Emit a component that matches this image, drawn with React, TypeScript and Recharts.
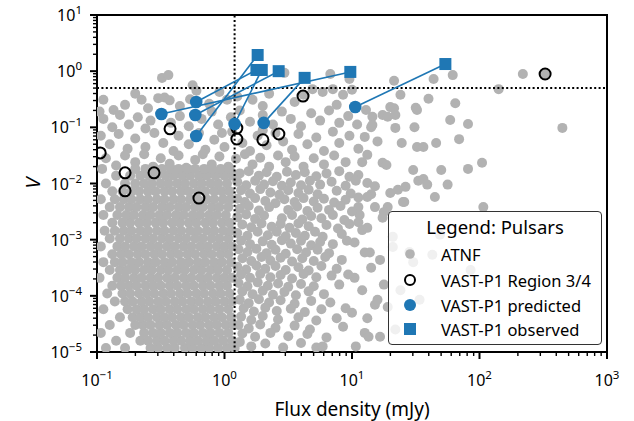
import React from "react";
import { ScatterChart, Scatter, XAxis, YAxis, ReferenceArea } from "recharts";

// ---- data ----
// VAST-P1 predicted / observed pairs (same order)
const predictedFlux = [0.32, 0.6, 0.59, 0.6, 1.2, 2.03, 10.6];
const predictedV = [0.173, 0.283, 0.166, 0.07, 0.115, 0.12, 0.23];
const observedFlux = [9.7, 1.78, 2.66, 1.82, 1.96, 4.25, 54];
const observedV = [0.97, 1.05, 1.0, 1.94, 1.05, 0.76, 1.34];

// VAST-P1 Region 3/4 pulsars
const regionFlux = [0.106, 0.166, 0.28, 0.166, 0.374, 0.63, 1.25, 1.25, 2.0, 2.67, 4.13, 327];
const regionV = [0.035, 0.0155, 0.0155, 0.0074, 0.094, 0.0055, 0.097, 0.062, 0.06, 0.076, 0.36, 0.89];

// ATNF pulsars, as [log10 flux (mJy), log10 V]
const atnfTop = [
  [-0.95, -0.51], [-0.87, -0.69], [-0.65, -0.51], [-0.52, -0.48], [-0.47, -0.47], [-0.43, -0.52],
  [-0.27, -0.5], [-0.22, -0.35], [-0.25, -0.25], [-0.49, -0.12], [-0.44, -0.07], [-0.04, -0.37],
  [0.02, -0.51], [0.22, -0.51], [0.47, -0.03], [0.69, -0.32], [0.77, -0.37], [0.85, -0.32],
  [0.93, -0.42], [1.0, -0.33], [0.83, -0.05], [0.98, -0.14], [1.33, -0.17], [1.64, -0.14],
  [1.79, -0.07], [2.34, -0.05], [2.51, -0.05], [2.15, -0.32], [1.38, -0.42], [1.6, -0.49],
  [1.81, -0.57], [-0.78, -0.6], [-0.6, -0.66], [-0.35, -0.62], [-0.12, -0.58], [0.1, -0.45],
  [0.35, -0.4], [0.55, -0.55], [0.62, -0.42], [0.3, -0.62], [0.88, -0.6], [-0.98, -0.72], [-0.7, -0.4],
];

const atnfUpper = [
  [-0.95, -0.85], [-0.82, -0.78], [-0.75, -0.95], [-0.68, -0.82], [-0.58, -0.88], [-0.5, -0.75],
  [-0.42, -0.92], [-0.35, -0.8], [-0.28, -0.98], [-0.18, -0.85], [-0.1, -0.72], [-0.05, -0.95],
  [0.05, -0.82], [0.12, -0.7], [0.2, -0.9], [0.3, -0.78], [0.38, -0.95], [0.45, -0.72],
  [0.52, -0.85], [0.6, -0.98], [0.68, -0.75], [0.75, -0.88], [0.82, -0.7], [0.9, -0.92],
  [0.97, -0.8], [1.04, -0.95], [-0.88, -1.0], [-0.62, -1.02],
  [-0.97, -1.15], [-0.9, -1.3], [-0.83, -1.12], [-0.76, -1.38], [-0.7, -1.2], [-0.62, -1.35],
  [-0.55, -1.1], [-0.48, -1.28], [-0.4, -1.42], [-0.36, -1.15], [-0.28, -1.3], [-0.2, -1.1],
  [-0.15, -1.4], [-0.08, -1.22], [0.0, -1.35], [0.06, -1.08], [0.14, -1.28], [0.2, -1.42],
  [0.26, -1.15], [0.33, -1.32], [0.4, -1.1], [0.46, -1.25], [0.53, -1.4], [0.58, -1.12],
  [0.65, -1.3], [0.72, -1.18], [0.78, -1.42], [0.85, -1.08], [0.9, -1.28], [0.98, -1.15],
  [1.05, -1.38], [1.2, -1.25], [-0.02, -1.1], [0.3, -1.05],
  [-0.93, -1.55], [-0.85, -1.68], [-0.78, -1.5], [-0.7, -1.62], [-0.63, -1.48], [-0.56, -1.7],
  [-0.5, -1.55], [-0.43, -1.65], [-0.36, -1.5], [-0.3, -1.72], [-0.23, -1.58], [-0.17, -1.48],
  [-0.1, -1.66], [-0.04, -1.52], [0.03, -1.7], [0.09, -1.56], [0.16, -1.48], [0.22, -1.66],
  [0.28, -1.54], [0.35, -1.7], [0.42, -1.5], [0.48, -1.62], [0.55, -1.52], [0.62, -1.7],
  [0.7, -1.55], [0.78, -1.66], [0.86, -1.5], [0.95, -1.62],
];

const atnfRight = [
  [1.5, -0.65], [1.51, -0.69], [1.3, -0.64], [1.33, -0.66], [1.24, -0.78], [1.28, -0.81],
  [1.34, -0.78], [1.16, -0.81], [1.11, -0.69], [1.15, -1.0], [1.34, -1.01], [1.49, -1.0],
  [1.77, -0.87], [1.91, -0.94], [2.65, -1.01], [1.1, -1.17], [1.39, -1.28], [1.51, -1.35],
  [1.56, -1.35], [1.66, -1.28], [1.84, -1.21], [1.24, -1.63], [1.27, -1.67], [1.08, -1.62],
  [1.7, -1.76], [1.91, -1.74], [2.02, -1.63], [1.48, -1.76], [1.52, -1.95], [1.56, -1.92],
  [1.59, -2.02], [1.75, -2.02], [1.42, -2.06], [1.36, -2.11], [1.3, -2.17], [1.15, -2.19],
  [1.12, -2.24], [1.65, -2.24], [1.41, -2.33], [1.18, -2.42], [1.28, -2.42], [2.03, -2.42],
  [1.12, -1.99], [1.12, -1.49], [1.16, -0.96],
  [1.05, -2.42], [1.06, -2.56], [1.05, -2.69], [1.08, -2.83], [1.12, -2.79], [1.1, -3.23],
  [1.14, -3.23], [1.22, -3.36], [1.02, -3.68], [1.18, -4.16], [1.2, -4.07], [1.1, -4.66],
  [1.13, -4.73], [1.22, -4.73], [1.25, -2.51], [1.24, -2.61], [1.4, -2.33], [1.32, -2.95],
  [1.32, -3.13], [1.45, -3.22], [1.63, -3.27], [1.48, -3.4], [1.38, -3.9], [1.53, -4.07],
  [1.34, -4.6], [1.69, -2.91], [1.93, -3.54],
  [1.05, -1.85], [1.18, -2.05], [1.02, -3.05], [1.15, -3.5], [1.08, -3.9], [1.25, -3.8],
  [1.0, -4.3], [1.12, -4.4], [1.28, -4.2], [1.05, -2.25],
];

// right of the 1.2 mJy line, below V ~ 0.02
const atnfMid = [
  [0.12, -1.82], [0.19, -1.78], [0.27, -1.86], [0.33, -1.8], [0.41, -1.88], [0.49, -1.79], [0.56, -1.85], [0.63, -1.8], [0.72, -1.87], [0.8, -1.82], [0.9, -1.78], [0.98, -1.88],
  [0.1, -1.97], [0.17, -2.03], [0.24, -1.95], [0.31, -2.02], [0.38, -1.96], [0.45, -2.04], [0.52, -1.98], [0.6, -2.03], [0.67, -1.95], [0.75, -2.02], [0.84, -1.97], [0.95, -2.04], [1.03, -1.95],
  [0.13, -2.12], [0.2, -2.18], [0.28, -2.1], [0.36, -2.16], [0.43, -2.2], [0.5, -2.12], [0.58, -2.17], [0.66, -2.11], [0.73, -2.19], [0.88, -2.13], [0.99, -2.18],
  [0.1, -2.27], [0.16, -2.33], [0.24, -2.26], [0.32, -2.31], [0.4, -2.35], [0.47, -2.28], [0.55, -2.33], [0.62, -2.26], [0.7, -2.32], [0.78, -2.27], [0.86, -2.34], [0.95, -2.29],
  [0.12, -2.45], [0.19, -2.4], [0.27, -2.48], [0.35, -2.42], [0.5, -2.47], [0.57, -2.41], [0.65, -2.49], [0.73, -2.43], [0.82, -2.47], [0.91, -2.4], [1.0, -2.5],
  [0.1, -2.6], [0.17, -2.55], [0.24, -2.63], [0.31, -2.57], [0.45, -2.62], [0.53, -2.56], [0.61, -2.64], [0.68, -2.58], [0.76, -2.62], [0.85, -2.56], [0.94, -2.65],
  [0.14, -2.73], [0.21, -2.78], [0.29, -2.71], [0.37, -2.77], [0.44, -2.72], [0.51, -2.79], [0.58, -2.71], [0.66, -2.76], [0.8, -2.74], [0.89, -2.8], [0.98, -2.72],
  [0.1, -2.88], [0.18, -2.93], [0.26, -2.86], [0.34, -2.92], [0.41, -2.86], [0.48, -2.94], [0.56, -2.88], [0.63, -2.93], [0.71, -2.86], [0.77, -2.95], [0.92, -2.9],
  [0.13, -3.02], [0.2, -3.08], [0.3, -3.03], [0.37, -3.09], [0.45, -3.01], [0.52, -3.07], [0.6, -3.02], [0.68, -3.1], [0.75, -3.04], [0.85, -3.08], [0.96, -3.02],
  [0.11, -3.17], [0.18, -3.22], [0.25, -3.16], [0.33, -3.24], [0.4, -3.18], [0.48, -3.25], [0.57, -3.17], [0.64, -3.23], [0.73, -3.18], [0.82, -3.24],
  [0.14, -3.33], [0.21, -3.38], [0.29, -3.31], [0.36, -3.37], [0.44, -3.32], [0.53, -3.39], [0.61, -3.33], [0.7, -3.38], [0.79, -3.31], [0.92, -3.36],
  [0.1, -3.48], [0.17, -3.53], [0.25, -3.46], [0.32, -3.52], [0.4, -3.47], [0.48, -3.54], [0.58, -3.49], [0.66, -3.55], [0.76, -3.47], [0.88, -3.52],
  [0.13, -3.62], [0.2, -3.68], [0.28, -3.61], [0.36, -3.67], [0.44, -3.63], [0.53, -3.69], [0.62, -3.61], [0.72, -3.67], [0.84, -3.64], [0.97, -3.62],
  [0.11, -3.77], [0.18, -3.83], [0.26, -3.76], [0.34, -3.82], [0.42, -3.78], [0.5, -3.84], [0.6, -3.79], [0.7, -3.83], [0.9, -3.8],
  [0.14, -3.92], [0.22, -3.97], [0.3, -3.91], [0.38, -3.98], [0.47, -3.93], [0.56, -3.99], [0.66, -3.92], [0.78, -3.97],
  [0.12, -4.07], [0.19, -4.13], [0.27, -4.06], [0.35, -4.12], [0.44, -4.08], [0.55, -4.14], [0.68, -4.09], [0.83, -4.12],
  [0.15, -4.22], [0.23, -4.28], [0.32, -4.21], [0.41, -4.27], [0.52, -4.23], [0.63, -4.29], [0.76, -4.24], [0.95, -4.22],
  [0.13, -4.37], [0.21, -4.43], [0.3, -4.36], [0.42, -4.42], [0.58, -4.38], [0.72, -4.44], [0.88, -4.4],
  [0.11, -4.52], [0.19, -4.58], [0.28, -4.51], [0.4, -4.57], [0.55, -4.53], [0.67, -4.6], [0.93, -4.55],
  [0.14, -4.67], [0.24, -4.73], [0.36, -4.66], [0.5, -4.72], [0.65, -4.68], [0.8, -4.74],
  [0.12, -4.82], [0.21, -4.9], [0.32, -4.85], [0.46, -4.92], [0.6, -4.84], [0.72, -4.92], [0.77, -4.9], [1.03, -4.9],
];

// dense part left of the line: each row is [log10 V, log10 flux, log10 flux, ...]
const atnfCoreRows = [
  [-4.93, -0.93, -0.78, -0.58, -0.52, -0.45, -0.39, -0.31, -0.25, -0.18, -0.12, -0.05, 0.02, 0.08],
  [-4.8, -0.85, -0.66, -0.6, -0.53, -0.47, -0.4, -0.34, -0.27, -0.21, -0.14, -0.08, -0.01, 0.06],
  [-4.66, -0.97, -0.74, -0.63, -0.56, -0.5, -0.43, -0.37, -0.3, -0.24, -0.17, -0.11, -0.04, 0.03],
  [-4.52, -0.9, -0.7, -0.64, -0.58, -0.51, -0.45, -0.38, -0.32, -0.25, -0.19, -0.12, -0.06, 0.01, 0.07],
  [-4.38, -0.82, -0.72, -0.66, -0.6, -0.53, -0.47, -0.41, -0.34, -0.28, -0.21, -0.15, -0.08, -0.02, 0.05],
  [-4.24, -0.95, -0.76, -0.69, -0.63, -0.56, -0.5, -0.43, -0.37, -0.3, -0.24, -0.17, -0.11, -0.04, 0.03],
  [-4.1, -0.86, -0.78, -0.72, -0.65, -0.59, -0.52, -0.46, -0.39, -0.33, -0.26, -0.2, -0.13, -0.07, 0.0, 0.06],
  [-3.96, -0.92, -0.8, -0.74, -0.67, -0.61, -0.55, -0.48, -0.42, -0.35, -0.29, -0.22, -0.16, -0.09, -0.03, 0.04],
  [-3.82, -0.88, -0.81, -0.75, -0.69, -0.62, -0.56, -0.5, -0.43, -0.37, -0.3, -0.24, -0.17, -0.11, -0.04, 0.02],
  [-3.68, -0.98, -0.84, -0.78, -0.71, -0.65, -0.58, -0.52, -0.45, -0.39, -0.32, -0.26, -0.19, -0.13, -0.06, 0.0, 0.06],
  [-3.54, -0.9, -0.82, -0.76, -0.7, -0.63, -0.57, -0.5, -0.44, -0.37, -0.31, -0.24, -0.18, -0.11, -0.05, 0.02],
  [-3.4, -0.95, -0.86, -0.8, -0.73, -0.67, -0.6, -0.54, -0.47, -0.41, -0.34, -0.28, -0.21, -0.15, -0.08, -0.02, 0.05],
  [-3.26, -0.88, -0.81, -0.75, -0.68, -0.62, -0.55, -0.49, -0.42, -0.36, -0.29, -0.23, -0.16, -0.1, -0.03, 0.03],
  [-3.12, -0.97, -0.84, -0.78, -0.71, -0.65, -0.58, -0.52, -0.45, -0.39, -0.32, -0.26, -0.19, -0.13, -0.06, 0.0, 0.06],
  [-2.98, -0.9, -0.82, -0.75, -0.69, -0.62, -0.56, -0.49, -0.43, -0.36, -0.3, -0.23, -0.17, -0.1, -0.04, 0.03],
  [-2.84, -0.94, -0.86, -0.79, -0.73, -0.66, -0.6, -0.53, -0.47, -0.4, -0.34, -0.27, -0.21, -0.14, -0.08, -0.01, 0.05],
  [-2.7, -0.88, -0.8, -0.74, -0.67, -0.61, -0.54, -0.48, -0.41, -0.35, -0.28, -0.22, -0.15, -0.09, -0.02, 0.04],
  [-2.56, -0.95, -0.84, -0.77, -0.71, -0.64, -0.58, -0.51, -0.45, -0.38, -0.32, -0.25, -0.19, -0.12, -0.06, 0.01],
  [-2.42, -0.9, -0.82, -0.75, -0.69, -0.62, -0.56, -0.49, -0.43, -0.36, -0.3, -0.23, -0.17, -0.1, -0.04, 0.03],
  [-2.28, -0.97, -0.86, -0.79, -0.73, -0.66, -0.6, -0.53, -0.47, -0.4, -0.34, -0.27, -0.21, -0.14, -0.08, -0.01, 0.05],
  [-2.14, -0.88, -0.8, -0.73, -0.67, -0.6, -0.54, -0.47, -0.41, -0.34, -0.28, -0.21, -0.15, -0.08, -0.02, 0.04],
  [-2.0, -0.93, -0.78, -0.7, -0.63, -0.57, -0.5, -0.44, -0.37, -0.31, -0.24, -0.18, -0.11, -0.05, 0.02],
  [-1.86, -0.85, -0.74, -0.66, -0.59, -0.53, -0.46, -0.4, -0.33, -0.27, -0.2, -0.14, -0.07, 0.0, 0.06],
  [-1.74, -0.96, -0.7, -0.62, -0.55, -0.49, -0.42, -0.36, -0.29, -0.23, -0.16, -0.1, -0.03, 0.04],
];

const xMajorTicks = [0.1, 1, 10, 100, 1000];
const yMajorTicks = [1e-5, 1e-4, 1e-3, 1e-2, 1e-1, 1, 10];
const fluxLimit = 1.2;
const vLimit = 0.5;

// ---- helpers ----
const BLUE = "#1f77b4";
const GREY = "#b2b2b2";
const FONT = "'Noto Sans', sans-serif";
const X_DOMAIN = [0.1, 1000];
const Y_DOMAIN = [1e-5, 10];

const fromLog = (p: number[]) => ({ x: Math.pow(10, p[0]), y: Math.pow(10, p[1]) });

const atnfData = [
  ...atnfTop.map(fromLog),
  ...atnfUpper.map(fromLog),
  ...atnfRight.map(fromLog),
  ...atnfMid.map(fromLog),
  ...atnfCoreRows.flatMap((row) => row.slice(1).map((lx) => fromLog([lx, row[0]]))),
];
const regionData = regionFlux.map((x, i) => ({ x, y: regionV[i] }));
const predictedData = predictedFlux.map((x, i) => ({ x, y: predictedV[i] }));
const observedData = observedFlux.map((x, i) => ({ x, y: observedV[i] }));
const pairData = predictedData.map((p, i) => [p, observedData[i]]);

// threshold lines
const fluxLine = [{ x: fluxLimit, y: Y_DOMAIN[0] }, { x: fluxLimit, y: Y_DOMAIN[1] }];
const vLine = [{ x: X_DOMAIN[0], y: vLimit }, { x: X_DOMAIN[1], y: vLimit }];

const withMinors = (majors: number[]) => {
  const out: number[] = [];
  majors.forEach((m, i) => {
    out.push(m);
    if (i < majors.length - 1) for (let k = 2; k <= 9; k++) out.push(m * k);
  });
  return out;
};
const xTicks = withMinors(xMajorTicks);
const yTicks = withMinors(yMajorTicks);

const expOf = (v: number) => {
  const l = Math.log10(v);
  const e = Math.round(l);
  return Math.abs(l - e) < 1e-6 ? e : null;
};
const supText = (e: number) => (e < 0 ? "\u2212" + Math.abs(e) : String(e));

const XTick = ({ x, y, payload }: any) => {
  const e = expOf(payload.value);
  const major = e !== null;
  return (
    <g>
      <line x1={x} x2={x} y1={y} y2={y + (major ? 7 : 4)} stroke="#000" strokeWidth={major ? 2 : 1.4} />
      {major && (
        <text x={x} y={y + 34} textAnchor="middle" fontFamily={FONT} fontSize={16} fill="#000">
          10
          <tspan dy={-7} fontSize={11.5}>{supText(e as number)}</tspan>
        </text>
      )}
    </g>
  );
};

const YTick = ({ x, y, payload }: any) => {
  const e = expOf(payload.value);
  const major = e !== null;
  return (
    <g>
      <line x1={x} x2={x - (major ? 7 : 4)} y1={y} y2={y} stroke="#000" strokeWidth={major ? 2 : 1.4} />
      {major && (
        <text x={x - 15} y={y + 6} textAnchor="end" fontFamily={FONT} fontSize={16} fill="#000">
          10
          <tspan dy={-7} fontSize={11.5}>{supText(e as number)}</tspan>
        </text>
      )}
    </g>
  );
};

const greyDot = (p: any) => <circle cx={p.cx} cy={p.cy} r={5} fill={GREY} />;
const ring = (p: any) => <circle cx={p.cx} cy={p.cy} r={5.5} fill="none" stroke="#000" strokeWidth={2} />;
const blueDot = (p: any) => <circle cx={p.cx} cy={p.cy} r={6.3} fill={BLUE} />;
const blueSquare = (p: any) => <rect x={p.cx - 6} y={p.cy - 6} width={12} height={12} fill={BLUE} />;
const noDot = () => <g />;

const LegendBox = () => {
  const rows = [
    { label: "ATNF", icon: <circle cx={8} cy={8} r={4.8} fill={GREY} /> },
    { label: "VAST-P1 Region 3/4", icon: <circle cx={8} cy={8} r={5} fill="none" stroke="#000" strokeWidth={2} /> },
    { label: "VAST-P1 predicted", icon: <circle cx={8} cy={8} r={6} fill={BLUE} /> },
    { label: "VAST-P1 observed", icon: <rect x={2} y={2} width={12} height={12} fill={BLUE} /> },
  ];
  const rowTop = [42, 68, 93, 117];
  return (
    <div
      style={{
        position: "absolute",
        left: 388,
        top: 211,
        width: 214,
        height: 134,
        boxSizing: "border-box",
        border: "1.5px solid #333",
        borderRadius: 4,
        background: "rgba(255,255,255,0.8)",
        fontFamily: FONT,
        color: "#000",
      }}
    >
      <div style={{ position: "absolute", left: 0, right: 0, top: 2, textAlign: "center", fontSize: 18.5, lineHeight: "26px" }}>
        Legend: Pulsars
      </div>
      {rows.map((r, i) => (
        <div key={r.label} style={{ position: "absolute", left: 0, top: rowTop[i] - 12, height: 24, display: "flex", alignItems: "center" }}>
          <svg width={16} height={16} style={{ marginLeft: 13 }}>
            {r.icon}
          </svg>
          <span style={{ marginLeft: 23, fontSize: 16.5, whiteSpace: "nowrap" }}>{r.label}</span>
        </div>
      ))}
    </div>
  );
};

const dotted = { stroke: "#000", strokeWidth: 2, strokeDasharray: "2 2.4" };

const App: React.FC = () => {
  return (
    <div style={{ position: "absolute", left: 0, top: 0, width: 634, height: 421, background: "#fff" }}>
      <ScatterChart width={634} height={421} margin={{ top: 15, right: 27, left: 7, bottom: 0 }}>
        <XAxis
          dataKey="x"
          type="number"
          scale="log"
          domain={X_DOMAIN}
          allowDataOverflow
          ticks={xTicks}
          interval={0}
          height={69}
          tickSize={0}
          tickMargin={0}
          tickLine={false}
          axisLine={false}
          tick={<XTick />}
        />
        <YAxis
          dataKey="y"
          type="number"
          scale="log"
          domain={Y_DOMAIN}
          allowDataOverflow
          ticks={yTicks}
          interval={0}
          width={90}
          tickSize={0}
          tickMargin={0}
          tickLine={false}
          axisLine={false}
          tick={<YTick />}
        />
        <ReferenceArea x1={0.1} x2={1000} y1={1e-5} y2={10} fill="none" stroke="#000" strokeWidth={2} ifOverflow="visible" />
        <Scatter data={atnfData} shape={greyDot} isAnimationActive={false} />
        <Scatter data={regionData} shape={ring} isAnimationActive={false} />
        <Scatter data={fluxLine} line={dotted} shape={noDot} isAnimationActive={false} />
        <Scatter data={vLine} line={dotted} shape={noDot} isAnimationActive={false} />
        {pairData.map((pair, i) => (
          <Scatter
            key={i}
            data={pair}
            line={{ stroke: BLUE, strokeWidth: 1.6 }}
            shape={noDot}
            isAnimationActive={false}
          />
        ))}
        <Scatter data={predictedData} shape={blueDot} isAnimationActive={false} />
        <Scatter data={observedData} shape={blueSquare} isAnimationActive={false} />
      </ScatterChart>
      <div
        style={{
          position: "absolute",
          left: 33,
          top: 183,
          transform: "translate(-50%, -50%) rotate(-90deg)",
          fontFamily: FONT,
          fontStyle: "italic",
          fontSize: 20,
          lineHeight: "20px",
        }}
      >
        V
      </div>
      <div
        style={{
          position: "absolute",
          left: 352,
          top: 409,
          transform: "translate(-50%, -50%)",
          fontFamily: FONT,
          fontSize: 19,
          whiteSpace: "nowrap",
          lineHeight: "24px",
        }}
      >
        Flux density (mJy)
      </div>
      <LegendBox />
    </div>
  );
};

export default App;
